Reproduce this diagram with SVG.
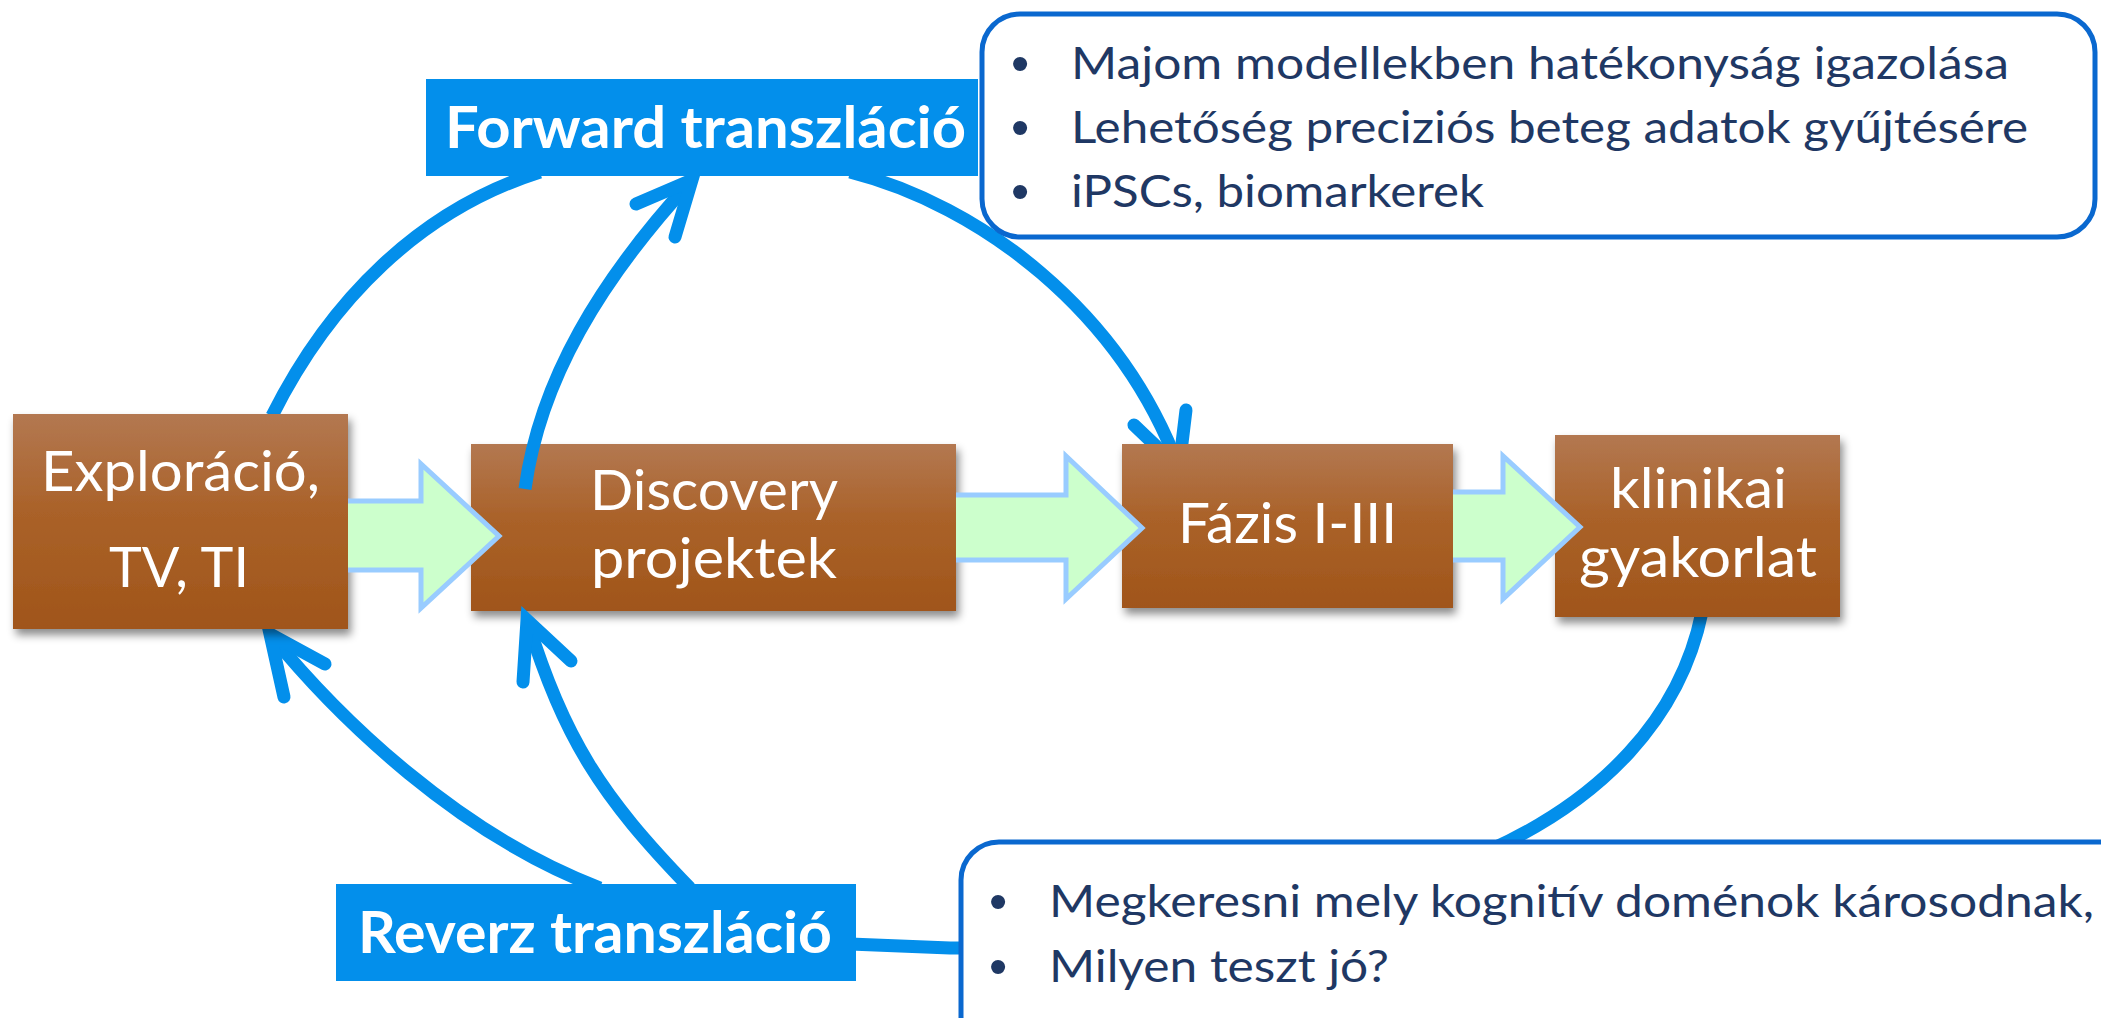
<svg xmlns="http://www.w3.org/2000/svg" width="2101" height="1018" viewBox="0 0 2101 1018">
<style>
.node-text{font-family:Lato,"Open Sans","Liberation Sans",sans-serif;font-size:57px;fill:#ffffff;}
.label-text{font-family:Lato,"Open Sans","Liberation Sans",sans-serif;font-size:58px;font-weight:700;fill:#ffffff;}
.bullet-text{font-family:Lato,"Open Sans","Liberation Sans",sans-serif;font-size:45px;fill:#1F3864;}
.bullet{font-family:"Liberation Sans",sans-serif;font-size:52px;fill:#1F3864;text-anchor:middle;}
.curve{fill:none;stroke:#038FEB;stroke-width:13;stroke-linecap:butt;}
.head{fill:none;stroke:#038FEB;stroke-width:13;stroke-linecap:round;stroke-linejoin:miter;stroke-miterlimit:10;}
.flow{fill:#CCFFCC;stroke:#99CCFF;stroke-width:5;stroke-linejoin:miter;}
.box{fill:url(#brown);filter:url(#shadow);}
.label-box{fill:#038FEB;}
.note{fill:#ffffff;stroke:#0A68CF;stroke-width:5;}
</style>
<defs>
<linearGradient id="brown" x1="0" y1="0" x2="0" y2="1">
<stop offset="0" stop-color="#B37851"/>
<stop offset="0.45" stop-color="#AA6229"/>
<stop offset="1" stop-color="#A0551A"/>
</linearGradient>
<filter id="shadow" x="-10%" y="-10%" width="125%" height="130%">
<feDropShadow dx="3" dy="6" stdDeviation="4" flood-color="#000000" flood-opacity="0.45"/>
</filter>
</defs>
<rect width="2101" height="1018" fill="#ffffff"/>

<g id="node-discovery">
<rect class="box" x="471" y="444" width="485" height="167"/>
<text class="node-text" x="590" y="510" textLength="248" lengthAdjust="spacingAndGlyphs">Discovery</text>
<text class="node-text" x="591" y="578" textLength="246" lengthAdjust="spacingAndGlyphs">projektek</text>
</g>

<g id="connectors">
<path class="curve" d="M272,416 C330,300 420,210 540,172"/>
<path class="curve" d="M525,489 C540,380 600,280 692,180"/>
<path class="head" d="M636,204 L692,180 L675,237"/>
<path class="curve" d="M850,172 C980,205 1120,310 1179,468"/>
<path class="head" d="M1134,425 L1179,468 L1186,410"/>
<path class="curve" d="M600,888 C460,835 340,720 270,634"/>
<path class="head" d="M284,697 L270,634 L325,664"/>
<path class="curve" d="M690,888 C600,795 565,740 527,620"/>
<path class="head" d="M523,682 L527,620 L571,661"/>
<path class="curve" d="M1702,612 C1680,720 1600,800 1490,850 C1380,900 1100,950 950,948 L850,944"/>
</g>

<g id="node-exploracio">
<rect class="box" x="13" y="414" width="335" height="215"/>
<text class="node-text" x="41" y="491" textLength="279" lengthAdjust="spacingAndGlyphs">Exploráció,</text>
<text class="node-text" x="109" y="587" textLength="140" lengthAdjust="spacingAndGlyphs">TV, TI</text>
</g>

<g id="node-fazis">
<rect class="box" x="1122" y="444" width="331" height="164"/>
<text class="node-text" x="1178" y="543" textLength="219" lengthAdjust="spacingAndGlyphs">Fázis I-III</text>
</g>

<g id="node-klinikai">
<rect class="box" x="1555" y="435" width="285" height="182"/>
<text class="node-text" x="1610" y="508" textLength="177" lengthAdjust="spacingAndGlyphs">klinikai</text>
<text class="node-text" x="1579" y="577" textLength="238" lengthAdjust="spacingAndGlyphs">gyakorlat</text>
</g>

<g id="flow-arrows">
<path class="flow" d="M348,501 L421,501 L421,464 L499,536 L421,608 L421,570 L348,570"/>
<path class="flow" d="M956,495 L1066,495 L1066,456 L1142,528 L1066,599 L1066,560 L956,560"/>
<path class="flow" d="M1453,492 L1503,492 L1503,456 L1580,527 L1503,599 L1503,560 L1453,560"/>
</g>

<g id="label-forward">
<rect class="label-box" x="426" y="79" width="552" height="97"/>
<text class="label-text" x="445" y="148" textLength="521" lengthAdjust="spacingAndGlyphs">Forward transzláció</text>
</g>

<g id="label-reverz">
<rect class="label-box" x="336" y="884" width="520" height="97"/>
<text class="label-text" x="358" y="953" textLength="474" lengthAdjust="spacingAndGlyphs">Reverz transzláció</text>
</g>

<g id="note-forward">
<rect class="note" x="982" y="14" width="1113" height="223" rx="38" ry="38"/>
<text class="bullet" x="1020" y="81">•</text>
<text class="bullet-text" x="1071" y="79" textLength="938" lengthAdjust="spacingAndGlyphs">Majom modellekben hatékonyság igazolása</text>
<text class="bullet" x="1020" y="145">•</text>
<text class="bullet-text" x="1071" y="143" textLength="957" lengthAdjust="spacingAndGlyphs">Lehetőség preciziós beteg adatok gyűjtésére</text>
<text class="bullet" x="1020" y="209">•</text>
<text class="bullet-text" x="1071" y="207" textLength="413" lengthAdjust="spacingAndGlyphs">iPSCs, biomarkerek</text>
</g>

<g id="note-reverz">
<rect class="note" x="961" y="842" width="1250" height="300" rx="38" ry="38"/>
<text class="bullet" x="998" y="919">•</text>
<text class="bullet-text" x="1049" y="917" textLength="1045" lengthAdjust="spacingAndGlyphs">Megkeresni mely kognitív doménok károsodnak,</text>
<text class="bullet" x="998" y="984">•</text>
<text class="bullet-text" x="1049" y="982" textLength="340" lengthAdjust="spacingAndGlyphs">Milyen teszt jó?</text>
</g>
</svg>
